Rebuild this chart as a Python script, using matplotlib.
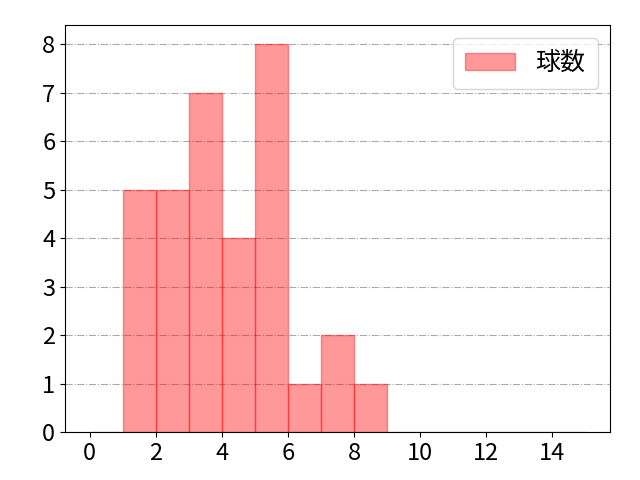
import matplotlib
matplotlib.use('Agg')
import matplotlib.pyplot as plt

plt.rcParams['font.family'] = ['Noto Sans CJK JP', 'DejaVu Sans']

# histogram bin edges and counts per bin
bins = list(range(0, 16))
counts = [0, 5, 5, 7, 4, 8, 1, 2, 1, 0, 0, 0, 0, 0, 0]

fig, ax = plt.subplots(figsize=(6.4, 4.8), dpi=100)
ax.hist(bins[:-1], bins=bins, weights=counts, color='red', alpha=0.4,
        edgecolor='red', label='球数')
ax.set_xticks(range(0, 16, 2))
ax.set_yticks(range(0, 9))
ax.tick_params(labelsize=17)
ax.grid(axis='y', linestyle='-.', color='#aaaaaa')
ax.set_axisbelow(True)
ax.legend(fontsize=18, borderpad=0.5)
fig.subplots_adjust(left=65/640, right=610/640, top=1-25/480, bottom=1-432/480)
plt.savefig('out.png')
